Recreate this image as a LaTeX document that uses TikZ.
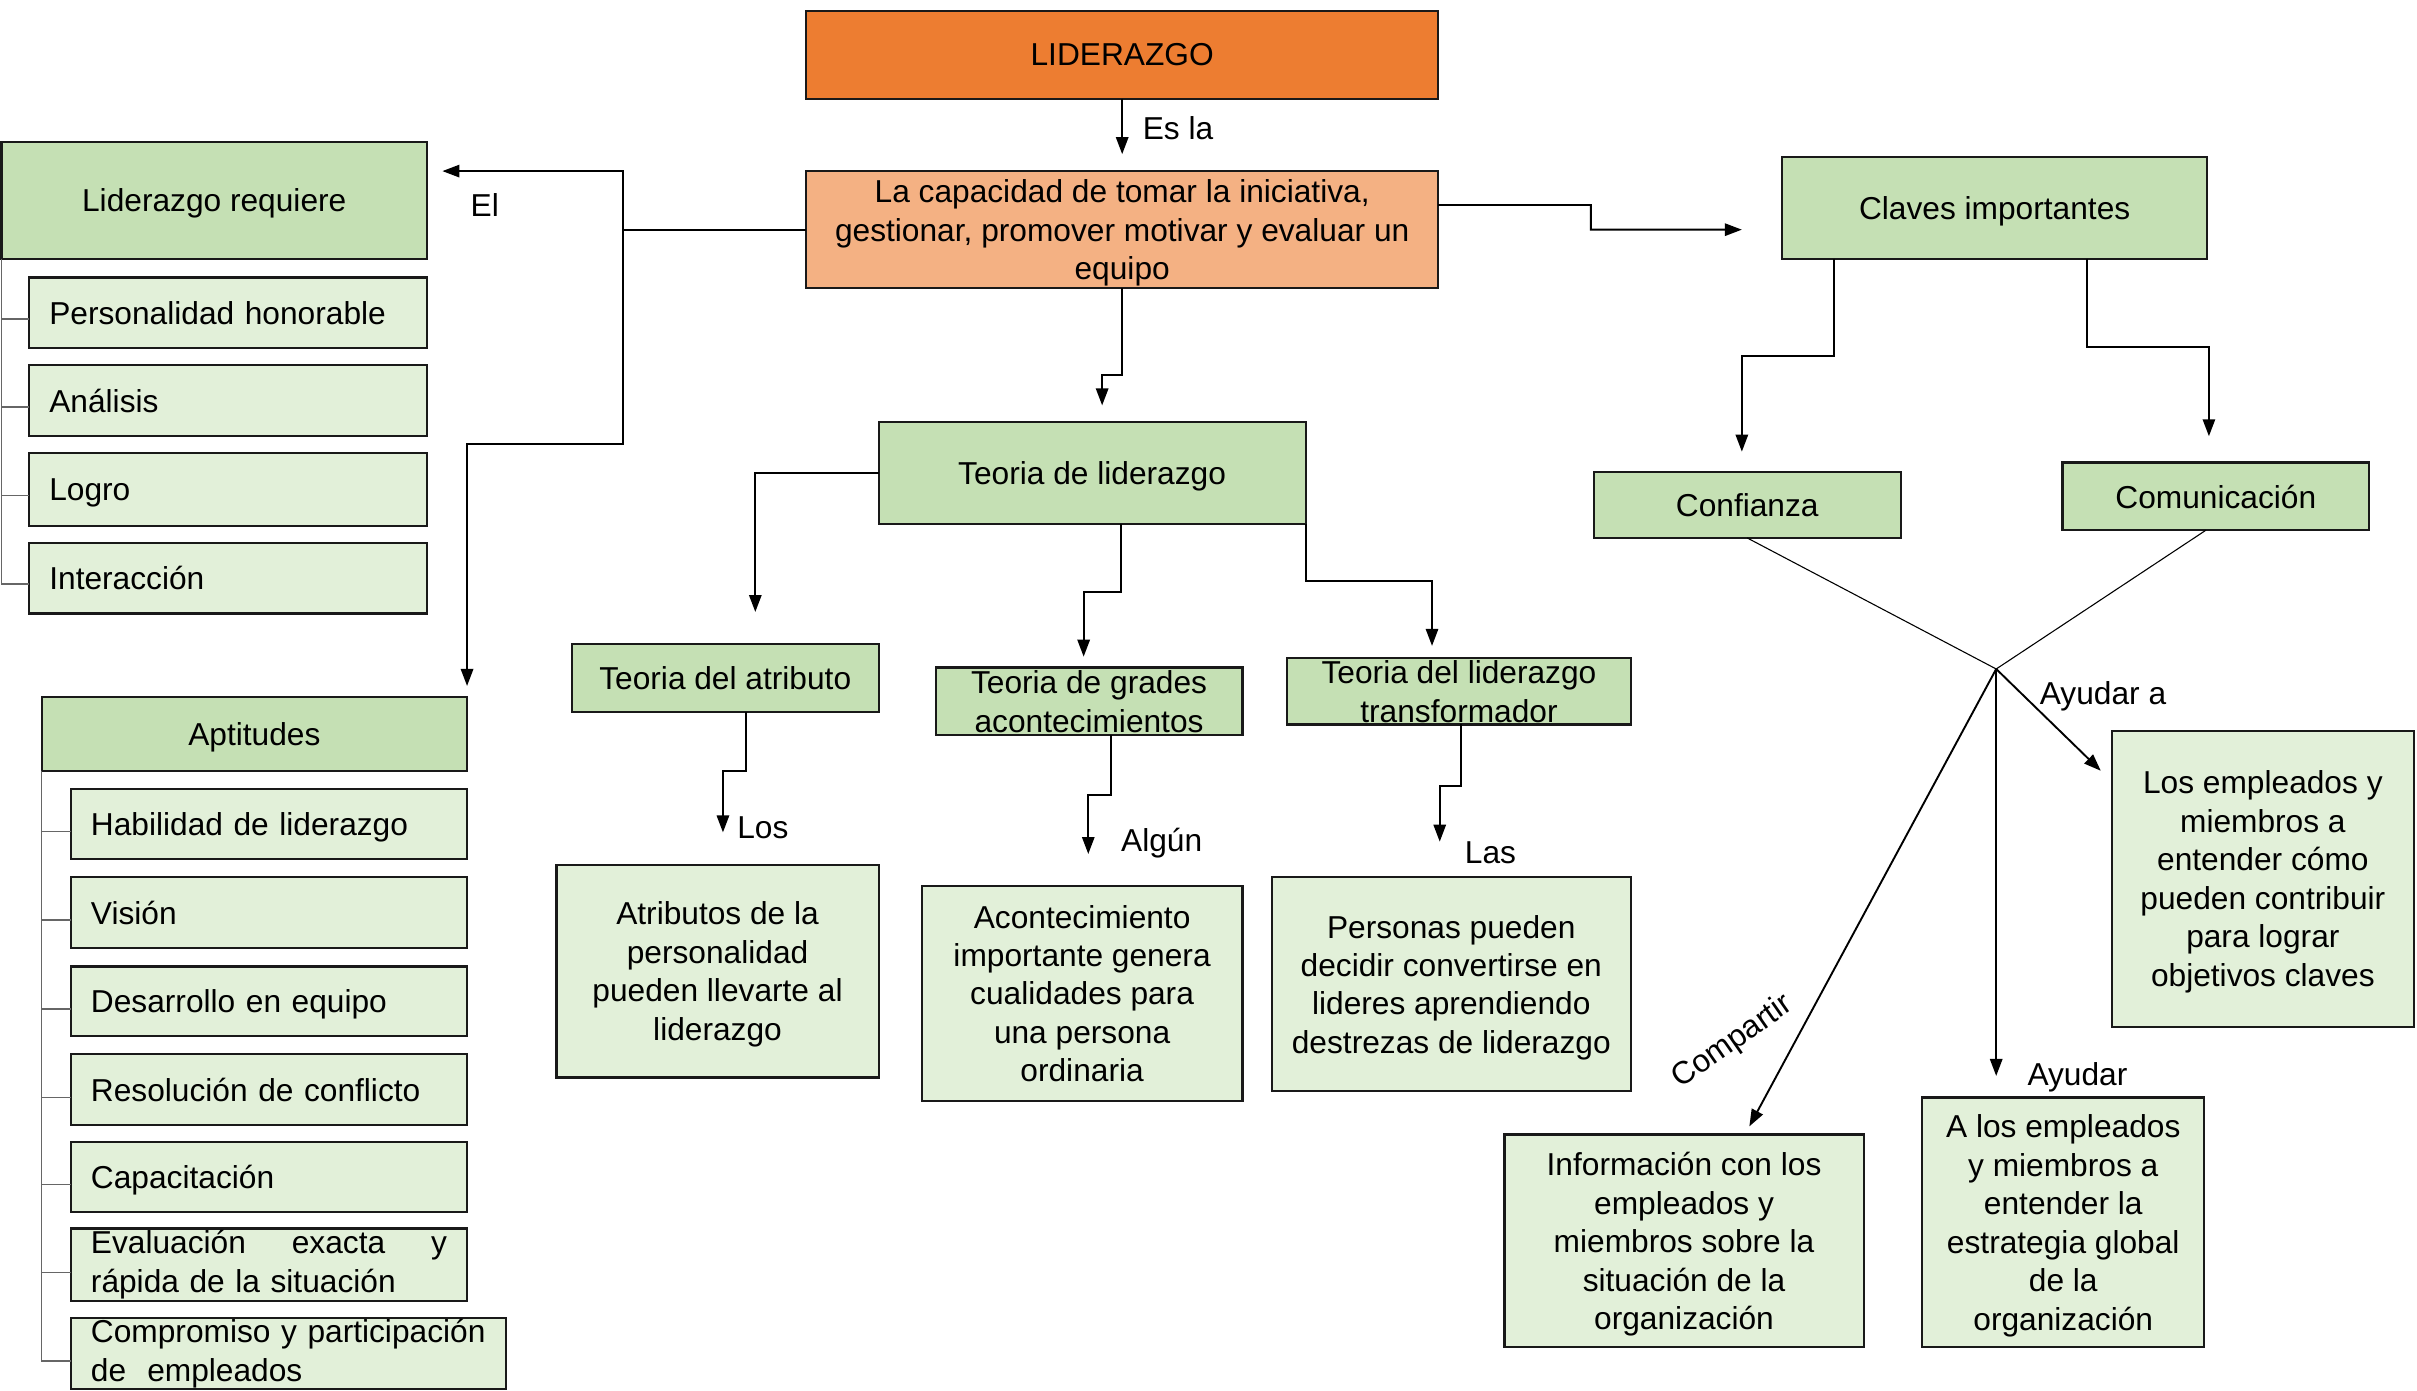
\documentclass[tikz,border=0pt]{standalone}
\usepackage{fontspec}
\setmainfont{Liberation Sans}
\usetikzlibrary{arrows.meta,calc}
\definecolor{orgA}{HTML}{ED7D31}
\definecolor{orgB}{HTML}{F4B183}
\definecolor{grnA}{HTML}{C5E0B4}
\definecolor{grnB}{HTML}{E2F0D9}
\newcommand\fsz{\fontsize{11.7pt}{14.2pt}\selectfont}
\newcommand\mkbox[7]{\node[#6, anchor=north west, minimum width={(#4-#2)*0.2mm}, minimum height={(#5-#3)*0.2mm}] (#1) at (#2,#3) {#7};}
\begin{document}
\begin{tikzpicture}[x=0.2mm,y=-0.2mm,
  every node/.style={font=\fsz, text=black},
  box/.style={draw=black!90, line width=0.8pt, outer sep=0pt, inner ysep=0pt, inner xsep=2mm, align=center, text depth=0pt},
  ora/.style={box, fill=orgA},
  orb/.style={box, fill=orgB},
  gra/.style={box, fill=grnA},
  grb/.style={box, fill=grnB},
  lsta/.style={box, fill=grnB, align=left, inner xsep=2.6mm, text width=46.4mm},
  lstb/.style={box, fill=grnB, align=left, inner xsep=2.6mm, text width=46.2mm},
  lstc/.style={box, fill=grnB, align=left, inner xsep=2.6mm, text width=51.2mm, text depth=},
  lstd/.style={lstb, text depth=},
  lbl/.style={anchor=west, inner sep=0pt},
  arr/.style={-{Triangle[length=2.2mm,width=1.6mm]}, line width=0.7pt},
  thinln/.style={line width=0.4pt},
  brk/.style={draw=black!60, line width=0.6pt}]
\fill[white] (0,0) rectangle (1568,902);
\useasboundingbox (0,0) rectangle (1568,902);
% boxes
\mkbox{lid}{523}{7}{933}{64}{ora}{LIDERAZGO}
\mkbox{cap}{523}{111}{933}{187}{orb}{La capacidad de tomar la iniciativa,\\gestionar, promover motivar y evaluar un\\equipo}
\mkbox{req}{1}{92}{277}{168}{gra}{Liderazgo requiere}
\mkbox{r1}{19}{180}{277}{226}{lsta}{Personalidad honorable}
\mkbox{r2}{19}{237}{277}{283}{lsta}{Análisis}
\mkbox{r3}{19}{294}{277}{341}{lsta}{Logro}
\mkbox{r4}{19}{352}{277}{398}{lsta}{Interacción}
\mkbox{apt}{27}{452}{303}{500}{gra}{Aptitudes}
\mkbox{a1}{46}{512}{303}{557}{lstb}{Habilidad de liderazgo}
\mkbox{a2}{46}{569}{303}{615}{lstb}{Visión}
\mkbox{a3}{46}{627}{303}{672}{lstb}{Desarrollo en equipo}
\mkbox{a4}{46}{684}{303}{730}{lstb}{Resolución de conflicto}
\mkbox{a5}{46}{741}{303}{786}{lstb}{Capacitación}
\mkbox{a6}{46}{797}{303}{844}{lstd}{\makebox[46.2mm][s]{Evaluación\hfill exacta\hfill y}\\rápida de la situación}
\mkbox{a7}{46}{855}{328}{901}{lstc}{\mbox{Compromiso y participación}\\de\ \ empleados}
\mkbox{teo}{570}{274}{847}{340}{gra}{Teoria de liderazgo}
\mkbox{atr}{371}{418}{570}{462}{gra}{Teoria del atributo}
\mkbox{gdr}{607}{433}{806}{477}{gra}{Teoria de grades\\acontecimientos}
\mkbox{tra}{835}{427}{1058}{470}{gra}{Teoria del liderazgo\\transformador}
\mkbox{atb}{361}{561}{570}{699}{grb}{Atributos de la\\personalidad\\pueden llevarte al\\liderazgo}
\mkbox{aco}{598}{575}{806}{714}{grb}{Acontecimiento\\importante genera\\cualidades para\\una persona\\ordinaria}
\mkbox{per}{825}{569}{1058}{708}{grb}{Personas pueden\\decidir convertirse en\\lideres aprendiendo\\destrezas de liderazgo}
\mkbox{cla}{1156}{102}{1432}{168}{gra}{Claves importantes}
\mkbox{con}{1034}{306}{1233}{349}{gra}{Confianza}
\mkbox{com}{1338}{300}{1537}{344}{gra}{Comunicación}
\mkbox{emp}{1370}{474}{1566}{666}{grb}{Los empleados y\\miembros a\\entender cómo\\pueden contribuir\\para lograr\\objetivos claves}
\mkbox{inf}{976}{736}{1209}{874}{grb}{Información con los\\empleados y\\miembros sobre la\\situación de la\\organización}
\mkbox{ale}{1247}{712}{1430}{874}{grb}{A los empleados\\y miembros a\\entender la\\estrategia global\\de la\\organización}
% list brackets
\foreach \s in {r1,r2,r3,r4} \draw[brk] (req.south west) |- ([yshift=-0.8mm]\s.west);
\foreach \s in {a1,a2,a3,a4,a5,a6,a7} \draw[brk] (apt.south west) |- ([yshift=-1mm]\s.west);
% connectors
\draw[arr, shorten >=2.2mm] (lid.south) -- (cap.north);
\node[lbl] (lesla) at (741,83) {Es la};
\coordinate (j1) at (404,149);
\coordinate (j2) at (404,111);
\coordinate (j3) at (404,288);
\draw[arr, shorten >=2mm] (cap.west) -- (j1) -- (j2) -- (req.east |- j2);
\node[lbl] (lel) at (305,133) {El};
\draw[arr, shorten >=1.4mm] (j1) -- (j3) -| (apt.north east);
\coordinate (j4) at (728,243);
\draw[arr, shorten >=2.2mm] (cap.south) -- (j4) -| ([xshift=1.3mm]teo.north);
\draw[arr, shorten >=4.2mm] (teo.west) -| ([xshift=3.9mm]atr.north);
\draw[arr, shorten >=1.4mm] ([xshift=3.7mm]teo.south) -- ++(0,44) -| ([xshift=-0.7mm]gdr.north);
\draw[arr, shorten >=1.6mm] (teo.south east) -- ++(0,37) -| ([xshift=-3.5mm]tra.north);
\draw[arr, shorten >=4.2mm] ([xshift=2.7mm]atr.south) -- ++(0,38) -| ([xshift=0.7mm]atb.north);
\node[lbl] (llos) at (478,537) {Los};
\draw[arr, shorten >=4.2mm] ([xshift=2.9mm]gdr.south) -- ++(0,39) -| ([xshift=0.8mm]aco.north);
\node[lbl] (lalg) at (727,547) {Algún};
\draw[arr, shorten >=4.6mm] ([xshift=0.3mm]tra.south) -- ++(0,40) -| ([xshift=-1.5mm]per.north);
\node[lbl] (llas) at (950,553) {Las};
\coordinate (j5) at (1032,149);
\draw[arr, shorten >=5.2mm] ([yshift=3.2mm]cap.east) -| (j5) -- ([yshift=-2.8mm]cla.west);
\draw[arr, shorten >=2.6mm] ([xshift=-20.8mm]cla.south) -- ++(0,63) -| ([xshift=-0.7mm]con.north);
\draw[arr, shorten >=3.4mm] ([xshift=12mm]cla.south) -- ++(0,57) -| ([xshift=-0.9mm]com.north);
\coordinate (hub) at (1295,434);
\draw[thinln] (con.south) -- (hub);
\draw[thinln] ([xshift=-1.3mm]com.south) -- (hub);
\draw[arr, shorten >=1.2mm] (hub) -- ([xshift=7.9mm]inf.north);
\draw[arr, shorten >=2.8mm] (hub) -- (hub |- ale.north);
\draw[arr, shorten >=2mm] (hub) -- ([yshift=12.6mm]emp.west);
\node[lbl] (lay1) at (1323,452) {Ayudar a};
\node[lbl] (lay2) at (1315,699) {Ayudar};
\node[rotate=35, inner sep=0pt] (lcomp) at (1124,676) {Compartir};
\end{tikzpicture}
\end{document}
